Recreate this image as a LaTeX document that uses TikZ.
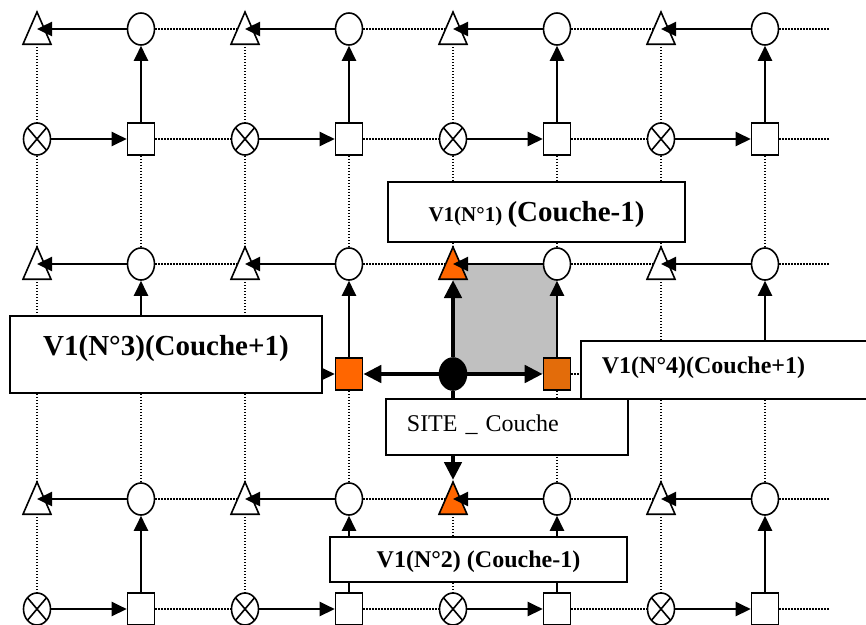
\documentclass[tikz,border=0pt]{standalone}
\usepackage{fontspec}
\setmainfont{Liberation Serif}
\usetikzlibrary{shapes.geometric, arrows.meta, backgrounds}
\definecolor{siteorange}{HTML}{FF6600}
\definecolor{sitebrown}{HTML}{E36C0A}
\definecolor{cellgray}{HTML}{C0C0C0}

\begin{document}
\begin{tikzpicture}[x=1pt, y=-1pt,
    shp/.style={draw, line width=1.6pt, fill=white, inner sep=0pt, minimum width=27pt, minimum height=32pt},
    tri/.style={shp, isosceles triangle, isosceles triangle apex angle=47, shape border rotate=90,
      minimum width=28pt, minimum height=28pt, anchor=lower side},
    circ/.style={shp, ellipse},
    sq/.style={shp, rectangle},
    crs/.style={shp, ellipse, path picture={
        \draw[line width=1.6pt] (path picture bounding box.north west) -- (path picture bounding box.south east)
          (path picture bounding box.north east) -- (path picture bounding box.south west);}},
    gridline/.style={line width=1.2pt, dash pattern=on 1.4pt off 1.6pt},
    arr/.style={-{Triangle[length=15pt, width=14pt]}, line width=2.4pt},
    bigarr/.style={-{Triangle[length=18pt, width=17pt]}, line width=4.5pt},
    box/.style={draw, line width=1.8pt, fill=white, inner sep=0pt, font=\bfseries\fontsize{24}{28}\selectfont},
    % highlighted site cell
    hl-t-1-2/.style={fill=siteorange},
    hl-t-2-2/.style={fill=siteorange},
    hl-s-1-1/.style={fill=siteorange},
    hl-s-1-2/.style={fill=sitebrown},
    hl-x-1-2/.style={fill=black, path picture={}},
]
  \useasboundingbox (0,0) rectangle (866,624);

  % === Grid of sites ===
  \foreach \j in {0,1,2} {
    \coordinate (endc-\j) at (830, {29+235*\j});
    \coordinate (ends-\j) at (830, {139+235*\j});
    \foreach \i in {0,...,3} {
      \coordinate (g-\j-\i) at ({37+208*\i}, {29+235*\j});
      \node[tri, hl-t-\j-\i/.try] (t-\j-\i) at ({37+208*\i}, {45+235*\j}) {};
      \node[circ] (c-\j-\i) at ({141+208*\i}, {29+235*\j}) {};
      \node[crs, hl-x-\j-\i/.try] (x-\j-\i) at ({37+208*\i}, {139+235*\j}) {};
      \node[sq, hl-s-\j-\i/.try] (s-\j-\i) at ({141+208*\i}, {139+235*\j}) {};
    }
  }

  % === Dotted lines (behind the sites) ===
  \begin{scope}[on background layer]
    \fill[cellgray] (g-1-2) rectangle (s-1-2.center);
    \foreach \j in {0,1,2}
      \foreach \i in {0,...,3} {
        \ifnum\j\i=12 \else \draw[gridline] (g-\j-\i) -- (x-\j-\i); \fi
      }
    \foreach \j [evaluate=\j as \jnext using int(\j+1)] in {0,1}
      \foreach \i in {0,...,3} {
        \ifnum\j\i=12 \else \draw[gridline] (x-\j-\i) -- (g-\jnext-\i); \fi
        \draw[gridline] (s-\j-\i) -- (c-\jnext-\i);
      }
    \foreach \j in {0,1,2} {
      \foreach \i [evaluate=\i as \inext using int(\i+1)] in {0,1,2} {
        \draw[gridline] (c-\j-\i) -- (g-\j-\inext);
        \ifnum\j\i=11 \else \draw[gridline] (s-\j-\i) -- (x-\j-\inext); \fi
      }
      \draw[gridline] (c-\j-3) -- (endc-\j);
      \draw[gridline] (s-\j-3) -- (ends-\j);
    }
  \end{scope}

  % === Arrows of each cell ===
  \foreach \j in {0,1,2}
    \foreach \i in {0,...,3} {
      \ifnum\j\i=12 \else \draw[arr] (x-\j-\i) -- (s-\j-\i); \fi
      \draw[arr] (s-\j-\i) -- (c-\j-\i);
      \draw[arr] (c-\j-\i) -- (g-\j-\i);
    }

  % === Site neighbours ===
  \draw[bigarr] (x-1-2) -- (t-1-2.lower side);
  \draw[bigarr] (x-1-2) -- (s-1-1);
  \draw[bigarr] (x-1-2) -- (s-1-2);
  \draw[bigarr] (x-1-2) -- (t-2-2.apex);

  % === Labels ===
  \node[box, minimum width=297pt, minimum height=60pt, text height=19pt, text depth=0pt] (v1) at (536.5, 212)
    {\fontsize{21}{24}\selectfont V1(N°1) \fontsize{29}{34}\selectfont(Couche-1)};
  \node[box, minimum width=312pt, minimum height=77pt, font=\bfseries\fontsize{29}{34}\selectfont,
    text height=20pt, text depth=19pt] (v3) at (166, 354.5) {V1(N°3)(Couche+1)};
  \node[box, anchor=north west, minimum height=56pt, text width=200pt, inner xsep=21pt, align=left,
    font=\fontsize{24}{28}\selectfont, text height=16pt, text depth=6pt] (site) at (385, 398) {SITE \_ Couche};
  \node[box, anchor=north west, minimum height=58pt, text width=300pt, inner xsep=21pt, align=left,
    text height=16pt, text depth=8pt] (v4) at (580, 340) {V1(N°4)(Couche+1)};
  \node[box, minimum width=297pt, minimum height=45pt, text height=16pt, text depth=0pt] (v2) at (478.5, 559.5)
    {V1(N°2) (Couche-1)};
\end{tikzpicture}
\end{document}
